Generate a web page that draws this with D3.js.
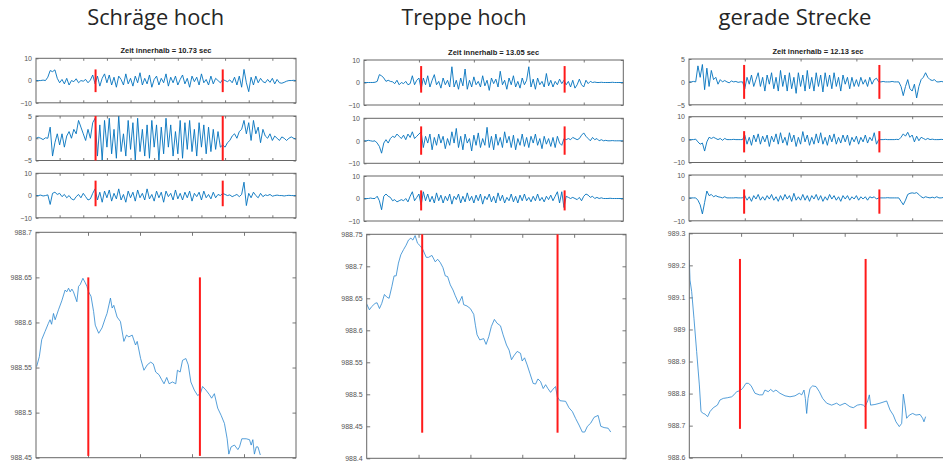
<!DOCTYPE html>
<html>
  <head>
    <meta charset="utf-8">
    <title>Luftdruck und Beschleunigung</title>
    <script src="https://d3js.org/d3.v7.min.js"></script>
    <style>
      body { margin: 0; background: #fff; }
      svg { display: block; }
      .tick text { font-family: "Liberation Sans", Arial, sans-serif; font-size: 7px; fill: #555; }
      .tick line { stroke: #555; }
    </style>
  </head>
  <body>
    <div id="chart"></div>

    <script>

        // ---- data ----
        const columnTitles = ["Schräge hoch", "Treppe hoch", "gerade Strecke"]
        const zeitLabels   = ["Zeit innerhalb = 10.73 sec", "Zeit innerhalb = 13.05 sec", "Zeit innerhalb = 12.13 sec"]

        // small panels: samples every 10, ticks in samples
        const sampleStep   = 10
        const sampleSpans  = [1100, 1180, 1156]
        const sampleTicks  = [[100, 200, 300, 400, 500, 600, 700, 800, 900, 1000], [250, 500, 750, 1000], [250, 500, 750, 1000]]
        const sampleMarks  = [[252, 790], [260, 913], [247, 853]]
        const accLimits    = [[[-10, 10], [-5, 5], [-10, 10]], [[-10, 10], [-10, 10], [-10, 10]], [[-5, 5], [-10, 10], [-10, 10]]]
        const accMarkRange = [[[-5.2, 5], [-5, 5], [-4.8, 6.7]], [[-4.5, 7.3], [-6.2, 6.4], [-5.3, 3.6]], [[-3.7, 3.7], [-5.6, 3.7], [-6.9, 3.7]]]

        const accSchraegeX = [0, 0, 0, 0.2, 0, 1.5, 4.5, 4, 4.8, 1,
            -1, 0.5, -1.5, 1, -2, 0, -0.5, 0.8, -1, 0, -0.3, 0.5, -1, 0.2, 2.5,
            -1.5, 2, -2.5, 1, 3, -1, 2.5, -2, 1.5, -3, 2, 0.5, -2, 3, -1.5, 1, -2.5, 2, -1, 3.5,
            -2, 1, -1.5, 2.5, -3, 0.5, 2, -2, 1, -1, 3, -2.5, 1.5, -1, 2, -2, 0.5, 2.5, -1.5, 1,
            -3, 2, -0.5, 1.5, -2, 3, -1, 0.5, -2, 2, -1.5, 1, 0, -1, 0.5,
            0, -0.5, 0.3, -1, 1.5, -2, 2, -3, 5, -1, -5, 1.5,
            -2, 2, -1, 1, -0.5, -1, 0.5, -0.8, 1, -1.5, 0.5, -1, -1.2, -0.8, -0.3, 0, 0, 0.1, 0]
        const accSchraegeY = [0, 0.2, 0, -0.3, 0.1, 0, 2.5, -4, -1, 1,
            -1.5, 1, -2, 0.5, 1.5, 0, 2, 1, 4, 2.5, 1, -0.5, 2, 0, 3.5,
            4.5, -4, 3, -5, 4, -2, 4.5, -3.5, 2, -4.5, 5, -3, 1, -4, 4, -2.5, 3.5, -5, 4.5, -3,
            2, -4, 3, -4.5, 4, -2, 3, -5, 2.5, -3.5, 4.5, -2, 3, -4, 1.5, -3.5, 4, -4.5, 3.5, -2.5,
            4, -3, 2, -4, 3.5, -2, 3, -3.5, 2.5, -3, 2, -2.5, 1.5, -2, -1.5,
            -2, -1, -0.5, 0.5, 1, 0, 1.5, 2, 4, 1, 3.5, -0.5, 4, 1, 2.5, -1, 2, 0.5, 0, 1,
            -0.5, 0.5, 0, -0.5, 0.3, 0, -0.5, 0, 0.3, 0, -0.2]
        const accSchraegeZ = [0, 0, 0.2, -0.2, 0, 0.3,
            -4, 1, 1.5, 0.5, 1, -0.5, 0.5, -1, 0, -1.5, -2, -0.5, 0.5, -1, 1, -0.5, -2, -1.5, 1,
            3, -2, 1.5, -3, 2, -1, 2.5, -2.5, 1, -1.5, 3, -2, 0.5, -3, 2, -1, 1.5, -2.5, 2.5, -1,
            1, -2, 3, -1.5, 0.5, -2.5, 2, -1, 1.5, -3, 2, -0.5, 1, -2, 2.5, -1.5, 1, -2, 1.5, -1,
            2, -2.5, 1, -0.5, 1.5, -2, 2, -1, 0.5, -1.5, 1.5, -1, 0.5, 0, 1,
            0.5, 0, 0.3, -0.5, 0, 0.5, -0.5, 0.5, 6, -4.5, 1, -1, 1.5, 0, -1, 1, -0.5, 0.3, 0, 0.5,
            -0.3, 0, 0.2, 0, 0, -0.2, 0, 0.1, 0, 0, 0]

        const accTreppeX = [0, 0, 0, 0, 0, 0.1, 0.5, 3.5, 3, 2, 0.5,
            1, 0.5, 0.3, -0.5, 1, -1, 0, -0.5, 0.5, -1, -0.5, 3, -1, 1, 2,
            -3, 2, -1, 3, -2, 1, 3.5, -1, 0.5, -2.5, 2, -1, 1, -2,
            7, -2, 1, -3, 2, -1.5, 6, -3, 1, -2, 2.5, -1, 0.5, -2, 3, -1.5, 1, -3.5, 2, -0.5, 1.5, -2,
            5, -1, 1, -3, 2, -1, 3, -2, 0.5, -2.5, 2, -1, 1,
            7, -2, 1.5, -3, 2, -1, 0.5, -2, 4, -1.5, 1, -2, 0.5, -1, 1.5, -0.5, 1,
            -1, 0.5, -2, 1, -2.5, -1, 1.5, -1, -2, 1, -0.5, 0.5, 0,
            0.2, 0, 0, 0.1, 0, 0, 0, 0, 0.1, 0, 0, 0, 0, 0]
        const accTreppeY = [0, 0, 0.2, 0, -0.2, 0, -1, -2.5, -5.5, -1, 0.5, -1,
            1, 2, 1.5, 3, 2, 1, 2.5, 0.5, 3, 1.5, 4, 1, 2, 3,
            4, -3, 2, -1, 3, -4, 1.5, -2, 3, -1, 2, -3.5, 1, -2, 4, -1, 5.5, -3, 2, -4,
            3, -1, 1, -4.5, 2.5, -2, 3.5, -3, 1, -2, 6, -3, 2, -4, 3, -2, 1.5, -3, 4, -1,
            2, -3, 2.5, -4, 1, -2, 3, -2.5, 1.5, -3, 2, -1, 3, -2, 1, -3.5, 2, -1.5, 1, -2.5,
            1.5, -3, 2, -1, -2, 1,
            0.5, 1, 0.5, 1.5, 1, 0.5, 1, 2.5, 3.5, 2, 1, 0, 1.5, 0.5, 1, 0, 0.5, 0, 0.2, 0,
            0, 0.1, 0, 0, 0, 0, 0]
        const accTreppeZ = [0, 0, 0, 0.2, 0, 0, 1, -1, -5, 1, 2, 1,
            0.5, -1, -0.5, -1.5, -1, -0.5, -1, 0, -1.5, 1, 3, -1, 0.5, 2,
            -3, 3, -1, 2, -1.5, 1, -2, 2.5, -1, 1.5, -2, 1, -1, 2, -2.5, 1, -0.5, 2, -2, 1,
            -1.5, 2.5, -1, 1, -2, 1.5, -1, 2, -2.5, 1, -0.5, 2, -1.5, 1, -2, 2.5, -1, 1.5, -2, 0.5,
            -1, 2, -1.5, 1, -2, 1.5, -1, 2, -1, 0.5, -1.5, 1, -1, 2, -1, 0.5, -1.5, 1, -0.5, 1.5,
            -1, 1, 3, -2, 3, -4,
            1, 0.5, 0, 0.5, 0, -0.5, 0.5, -1, 1, 2, 1.5, 0.5, 1, 0, 0.5, 0, 0.3, 0, 0, 0,
            0.1, 0, 0, 0, 0, 0, 0]

        const accGeradeX = [0, 0, 0.1, 0, 3.5, 1, 3.8, -1.7, 3, -1, 2.5,
            0.5, 1, -0.5, 0.5, 0, 0.3, 0, -0.2, 0.2, 0, 0.1, -0.1, 0, 0,
            -1.5, 1, -0.5, 1.5, -1, 0.5, 2, -1, 1, -2, 1.5, -0.5, 2, -1.5, 1, -2, 2.5, -1, 1.5, -2,
            2, -1.5, 1, -2.5, 2, -1, 1.5, -2, 2.5, -1.5, 1, -2, 2, -1, 1.5, -2.2, 2, -1, 1.5, -1.5,
            2, -1, 1, -2, 1.5, -0.5, 1, -1.5, 1, -1, 0.5, -1, 1, -0.5, 0.5, -1, 1, -0.5, 0.5, 0.8, 0,
            0, 0.1, 0, 0, 0, 0.1, 0, 0, 0,
            -1, -3, -1, 0.5, -1.5, -2, -0.5, -3.5, -1, 0.5,
            1, 2, 1, 0.5, 0.3, 0.5, 0, 0, 0.1, 0, 0]
        const accGeradeY = [0, 0, 0, 0.2, -1, -2, -1.5, -5, -1,
            1, 0.5, 1, 0.5, 0, 0.5, -0.3, 0.5, 0, 0, 0, 0.1, 0, 0, 0, 0,
            2, -2, 1, -2.5, 2, -1, 2.5, -2, 1.5, -1, 2, -3, 1.5, -1, 2.5, -2, 3, -1.5, 1, -2.5,
            3, -1, 2, -3, 1, -2, 3.5, -1, 2, -2.5, 1, -2, 2.5, -1.5, 3, -2, 1, -2.5, 2, -1,
            2.5, -2, 1, -1.5, 2, -1, 2, -2.5, 1, -1, 1.5, -2, 1, -1, 2, -1.5, 1, -0.5, 3, -2, 0,
            0, 0, 0.1, 0, 0, 0, 0, 0.1, 0,
            1, 2.5, 1.5, 3.2, 1, 2, -1, 1.5, -0.5, 1,
            0.5, 0, 0.5, 0, 0.2, 0, 0, 0, 0.1, 0, 0]
        const accGeradeZ = [0, 0, 0, 0, -1, -3, -7, -2, 3,
            1, 1.5, 0.5, 1, 0.5, 0.3, 0, 0.5, 0, 0, 0, 0, 0.1, 0, 0, 0,
            1, -1, 0.5, -1.5, 1, -0.5, 1.5, -1, 0.5, -1, 1, -0.5, 1.5, -1, 0.5, -1.5, 1, -1, 1.5, -0.5,
            1, -1.5, 2, -1, 0.5, -1, 1.5, -1, 1, -1.5, 1, -0.5, 1.5, -1, 1, -1.5, 0.5, -1, 1.5, -0.5,
            1, -1, 0.5, -1.5, 1, -0.5, 1, -1, 0.5, -0.5, 1, -1, 0.5, -0.5, 0.5, -1, 0.5, 0, 0.5, -0.5, 0,
            0, 0, 0, 0.1, 0, 0, 0, 0, 0,
            -1.5, -3, -1, 1.5, 2, 2.2, 2, 2.3, 1.5, 0.5,
            0, 0.5, 0.2, 0, 0.3, 0, 0.5, 0, 0, 0.2, 0]

        // large panels: [seconds, hPa]
        const timeSpan    = 25
        const timeTicks   = [5, 10, 15, 20]
        const timeMarks   = [[5.03, 15.76], [5.35, 18.4], [4.89, 17.02]]
        const pressLimits = [[988.45, 988.7], [988.4, 988.75], [988.6, 989.3]]
        const pressTicks  = [[988.45, 988.5, 988.55, 988.6, 988.65, 988.7],
                             [988.4, 988.45, 988.5, 988.55, 988.6, 988.65, 988.7, 988.75],
                             [988.6, 988.7, 988.8, 988.9, 989, 989.1, 989.2, 989.3]]
        const pressMarkRange = [[988.452, 988.65], [988.44, 988.75], [988.69, 989.22]]

        const pressSchraege = [[0.06,988.551],[0.32,988.562],[0.55,988.581],[0.87,988.590],[1.19,988.599],[1.35,988.603],
            [1.5,988.598],[1.68,988.610],[1.84,988.603],[2.16,988.614],[2.48,988.624],[2.8,988.636],[2.96,988.634],
            [3.13,988.638],[3.29,988.634],[3.45,988.637],[3.6,988.634],[3.93,988.623],[4.09,988.640],[4.25,988.642],
            [4.51,988.649],[4.74,988.644],[4.9,988.640],[5.06,988.634],[5.29,988.629],[5.54,988.612],[5.7,988.597],
            [6.03,988.588],[6.35,988.594],[6.67,988.605],[6.83,988.610],[7.16,988.627],[7.32,988.616],[7.48,988.619],
            [7.8,988.606],[8.12,988.601],[8.45,988.579],[8.7,988.586],[8.93,988.584],[9.25,988.586],[9.57,988.575],
            [9.73,988.579],[10.06,988.560],[10.38,988.547],[10.7,988.553],[11.03,988.556],[11.28,988.554],[11.51,988.545],
            [11.83,988.542],[12.06,988.537],[12.31,988.532],[12.57,988.539],[12.8,988.532],[13.12,988.534],[13.44,988.532],
            [13.6,988.547],[13.86,988.545],[14.09,988.558],[14.41,988.560],[14.64,988.553],[14.89,988.534],[15.22,988.525],
            [15.54,988.519],[15.8,988.521],[16.02,988.529],[16.34,988.525],[16.67,988.520],[16.89,988.516],[17.15,988.521],
            [17.47,988.505],[17.8,988.497],[18.12,988.488],[18.38,988.471],[18.54,988.454],[18.76,988.462],[19.08,988.464],
            [19.41,988.459],[19.57,988.462],[19.79,988.471],[20.21,988.471],[20.53,988.470],[20.69,988.464],[20.85,988.470],
            [21.0,988.454],[21.18,988.462],[21.34,988.462],[21.57,988.453]]

        const pressTreppe = [[0,988.641],[0.26,988.632],[0.48,988.637],[0.81,988.642],[1.0,988.643],[1.23,988.634],
            [1.45,988.642],[1.71,988.656],[1.93,988.652],[2.16,988.650],[2.42,988.668],[2.64,988.685],[2.84,988.685],
            [3.06,988.705],[3.29,988.718],[3.55,988.726],[3.8,988.733],[4.03,988.741],[4.26,988.744],[4.45,988.741],
            [4.67,988.748],[4.9,988.736],[5.16,988.732],[5.42,988.726],[5.74,988.714],[5.96,988.714],[6.29,988.717],
            [6.61,988.707],[6.84,988.711],[7.09,988.706],[7.35,988.698],[7.58,988.685],[7.8,988.684],[8.06,988.671],
            [8.32,988.663],[8.54,988.654],[8.87,988.642],[9.19,988.653],[9.35,988.640],[9.67,988.638],[9.99,988.634],
            [10.32,988.625],[10.48,988.608],[10.64,988.593],[10.9,988.585],[11.28,988.587],[11.51,988.578],[11.77,988.590],
            [12.02,988.606],[12.31,988.617],[12.57,988.611],[12.9,988.607],[13.15,988.593],[13.48,988.577],[13.73,988.569],
            [13.96,988.554],[14.18,988.560],[14.51,988.567],[14.83,988.564],[14.99,988.552],[15.22,988.557],[15.47,988.546],
            [15.73,988.533],[16.05,988.517],[16.28,988.516],[16.51,988.524],[16.76,988.520],[17.02,988.509],[17.25,988.515],
            [17.47,988.509],[17.73,988.503],[17.96,988.508],[18.21,988.512],[18.38,988.496],[18.63,988.490],[19.18,988.489],
            [19.5,988.479],[19.83,988.473],[20.15,988.462],[20.47,988.452],[20.79,988.441],[21.02,988.441],[21.28,988.450],
            [21.6,988.455],[21.92,988.464],[22.31,988.467],[22.57,988.450],[22.89,988.448],[23.28,988.447],[23.53,988.441]]

        const pressGerade = [[0,989.217],[0.07,989.154],[0.23,989.118],[0.45,989.035],[0.71,988.931],[0.97,988.827],
            [1.13,988.744],[1.35,988.738],[1.51,988.736],[1.77,988.728],[2.0,988.744],[2.32,988.756],[2.71,988.764],
            [2.96,988.780],[3.28,988.785],[3.67,988.787],[4.09,988.790],[4.31,988.796],[4.57,988.806],[4.89,988.809],
            [5.15,988.816],[5.47,988.832],[5.7,988.832],[5.96,988.825],[6.34,988.801],[6.76,988.796],[7.08,988.796],
            [7.3,988.811],[7.62,988.806],[7.85,988.813],[8.11,988.806],[8.36,988.811],[8.75,988.801],[9.24,988.793],
            [9.72,988.790],[10.2,988.793],[10.62,988.801],[10.85,988.796],[11.07,988.811],[11.2,988.785],[11.33,988.738],
            [11.46,988.785],[11.65,988.816],[11.9,988.824],[12.23,988.822],[12.55,988.806],[12.87,988.785],[13.26,988.770],
            [13.74,988.764],[14.22,988.770],[14.54,988.763],[15.03,988.770],[15.51,988.759],[15.83,988.756],[16.22,988.764],
            [16.54,988.766],[16.8,988.764],[16.96,988.759],[17.22,988.777],[17.38,988.796],[17.5,988.764],[17.92,988.766],
            [18.4,988.770],[19.05,988.777],[19.37,988.749],[19.69,988.733],[19.95,988.712],[20.27,988.697],[20.5,988.707],
            [20.66,988.798],[20.82,988.764],[20.98,988.723],[21.24,988.733],[21.56,988.738],[21.88,988.733],[22.27,988.735],
            [22.52,988.723],[22.65,988.712],[22.81,988.728]]

        const accSeries   = [[accSchraegeX, accSchraegeY, accSchraegeZ],
                             [accTreppeX, accTreppeY, accTreppeZ],
                             [accGeradeX, accGeradeY, accGeradeZ]]
        const pressSeries = [pressSchraege, pressTreppe, pressGerade]

        // ---- layout ----
        const width = 943, height = 464
        const layout = [
            { titleX: 155.7, titleW: 137, zeitY: 52.5, small: { x: 36,  w: 260,   ys: [58.3, 116, 173.3], h: 44.5 }, big: { x: 36,    y: 232.3, w: 260,   h: 225.4 } },
            { titleX: 464,   titleW: 125, zeitY: 55,   small: { x: 364, w: 259.3, ys: [60, 118.3, 176],   h: 45 },   big: { x: 366.7, y: 234.3, w: 259.3, h: 224 } },
            { titleX: 795,   titleW: 153, zeitY: 54,   small: { x: 689, w: 258,   ys: [59, 116.7, 175],   h: 45.8 }, big: { x: 689.3, y: 233.3, w: 259,   h: 224.4 } }
        ]
        const blue = "#0072BD", red = "#ff1a1a", frame = "#666"

        let svg = d3.select("#chart").append("svg")
            .attr("width", width)
            .attr("height", height)

        let clipId = 0

        function makePanel(box, xDomain, yDomain, xTicks, yTicks, yFormat, tickLen) {
            let x = d3.scaleLinear().domain(xDomain).range([0, box.w]),
                y = d3.scaleLinear().domain(yDomain).range([box.h, 0]),
                g = svg.append("g").attr("transform", `translate(${box.x},${box.y})`),
                id = "clip" + (clipId++)

            g.append("clipPath").attr("id", id)
                .append("rect").attr("width", box.w).attr("height", box.h)

            // inward ticks on all four sides, like a boxed matlab axes
            g.append("g").attr("transform", `translate(0,${box.h})`)
                .call(d3.axisBottom(x).tickValues(xTicks).tickSizeInner(-tickLen).tickSizeOuter(0).tickFormat(""))
            g.append("g")
                .call(d3.axisTop(x).tickValues(xTicks).tickSizeInner(-tickLen).tickSizeOuter(0).tickFormat(""))
            g.append("g")
                .call(d3.axisLeft(y).tickValues(yTicks).tickSizeInner(-tickLen).tickSizeOuter(0).tickPadding(4).tickFormat(yFormat))
            g.append("g").attr("transform", `translate(${box.w},0)`)
                .call(d3.axisRight(y).tickValues(yTicks).tickSizeInner(-tickLen).tickSizeOuter(0).tickFormat(""))
            g.selectAll(".domain").remove()
            g.selectAll(".tick line").attr("stroke", frame).attr("stroke-width", 0.8)

            let plot = g.append("g").attr("clip-path", `url(#${id})`)

            g.append("rect")
                .attr("width", box.w).attr("height", box.h)
                .attr("fill", "none").attr("stroke", frame).attr("stroke-width", 1)

            return { g: g, plot: plot, x: x, y: y }
        }

        function drawMarks(panel, xs, range) {
            panel.g.selectAll(".mark")
                .data(xs).enter().append("line")
                .attr("class", "mark")
                .attr("x1", d => panel.x(d)).attr("x2", d => panel.x(d))
                .attr("y1", panel.y(range[0])).attr("y2", panel.y(range[1]))
                .attr("stroke", red).attr("stroke-width", 2)
        }

        layout.forEach((col, c) => {

            svg.append("text")
                .attr("x", col.titleX).attr("y", 25)
                .attr("text-anchor", "middle")
                .attr("textLength", col.titleW).attr("lengthAdjust", "spacingAndGlyphs")
                .style("font-family", "'Open Sans', sans-serif")
                .style("font-size", "22px")
                .style("fill", "#262626")
                .text(columnTitles[c])

            svg.append("text")
                .attr("x", col.small.x + col.small.w / 2).attr("y", col.zeitY)
                .attr("text-anchor", "middle")
                .style("font-family", "'Liberation Sans', Arial, sans-serif")
                .style("font-size", "7.5px")
                .style("font-weight", "bold")
                .style("fill", "#222")
                .text(zeitLabels[c])

            accSeries[c].forEach((series, k) => {
                let box = { x: col.small.x, y: col.small.ys[k], w: col.small.w, h: col.small.h },
                    lim = accLimits[c][k],
                    panel = makePanel(box, [0, sampleSpans[c]], lim, sampleTicks[c], [lim[0], 0, lim[1]], d3.format("d"), 2.5),
                    line = d3.line()
                        .x((d, i) => panel.x(i * sampleStep))
                        .y(d => panel.y(d))

                panel.plot.append("path")
                    .datum(series)
                    .attr("d", line)
                    .attr("fill", "none")
                    .attr("stroke", blue)
                    .attr("stroke-width", 0.9)
                    .attr("stroke-linejoin", "round")

                drawMarks(panel, sampleMarks[c], accMarkRange[c][k])
            })

            let big = makePanel(col.big, [0, timeSpan], pressLimits[c], timeTicks, pressTicks[c], d => String(+d.toFixed(2)), 3.5),
                pline = d3.line()
                    .x(d => big.x(d[0]))
                    .y(d => big.y(d[1]))

            big.plot.append("path")
                .datum(pressSeries[c])
                .attr("d", pline)
                .attr("fill", "none")
                .attr("stroke", "#2a86cf")
                .attr("stroke-width", 0.8)
                .attr("stroke-linejoin", "round")

            drawMarks(big, timeMarks[c], pressMarkRange[c])
        })

    </script>
  </body>
</html>
